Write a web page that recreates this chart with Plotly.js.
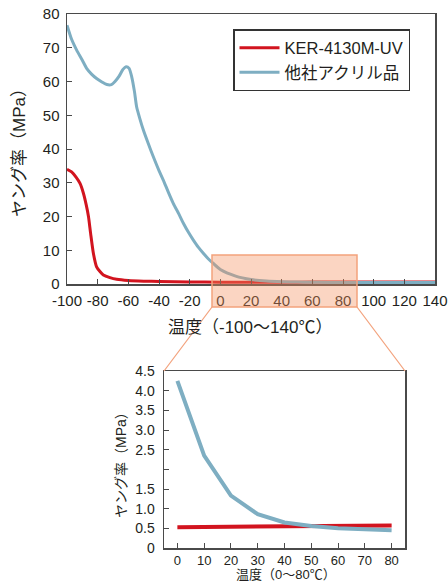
<!DOCTYPE html>
<html>
<head>
<meta charset="utf-8">
<script src="https://cdn.plot.ly/plotly-3.0.1.min.js"></script>
<style>html,body{margin:0;padding:0;background:#fff;}#chart{width:448px;height:582px;}</style>
</head>
<body>
<div id="chart"></div>
<script>
// ---- data ----
const seriesNames = ['KER-4130M-UV', '他社アクリル品'];

const redTemps = [-100,-97,-94,-91.5,-89.3,-87.5,-86,-84.6,-82.8,-80.7,-78.5,-76.3,-72,-67.6,-60,-50,-40,-20,0,20,40,60,80,100,120,140];
const redModulus = [34,33.2,31.6,29.8,26.9,23.5,20,15,9.1,5.1,3.7,2.7,1.9,1.4,1.05,0.85,0.75,0.6,0.53,0.54,0.55,0.56,0.57,0.58,0.58,0.59];

const blueTemps = [-100,-97,-93.7,-90,-87.2,-84,-80.7,-77,-74,-71,-68.7,-66,-63.5,-61.5,-59.5,-57.8,-56,-54.6,-52.5,-50.2,-47,-43.7,-40,-37.2,-34,-30.7,-27,-24.1,-20.8,-17.6,-14.4,-11.1,-7.9,-4.6,0,10,20,30,40,50,60,70,80,100,120,140];
const blueModulus = [76.7,72.5,69.3,66.3,63.9,62.2,60.9,59.8,59.1,59.1,60,61.6,63.6,64.4,63.9,61.4,57,52.5,49,45.6,41.6,37.7,33.6,30.8,27.3,23.9,20.7,18,15.3,13,10.9,9.1,7.5,6.1,4.3,2.35,1.33,0.86,0.65,0.56,0.5,0.47,0.45,0.44,0.43,0.42];

const insetTemps = [0,10,20,30,40,50,60,70,80];
const insetRed = [0.53,0.535,0.54,0.545,0.55,0.555,0.56,0.565,0.57];
const insetBlue = [4.25,2.35,1.33,0.86,0.65,0.56,0.5,0.47,0.45];

const mainXTicks = [-100,-80,-60,-40,-20,0,20,40,60,80,100,120,140];
const mainXTickText = ['-100','-80','-60','-40','-20','0','20','40','60','80','100','120','140'];
const mainYTicks = [0,10,20,30,40,50,60,70,80];
const insetXTicks = [0,10,20,30,40,50,60,70,80];
const insetYTicks = [0,0.5,1.0,1.5,2.0,2.5,3.0,3.5,4.0,4.5];
const insetYTickText = ['0','0.5','1.0','1.5','','2.5','3.0','3.5','4.0','4.5'];

const mainXTitle = '温度（-100～140℃）';
const mainYTitle = 'ヤング率（MPa）';
const insetXTitle = '温度（0～80℃）';
const insetYTitle = 'ヤング率（MPa）';

// ---- styling ----
const RED = '#d2141f';
const BLUE = '#7eaec2';
const AXIS = '#4a4a4a';
const TXT = '#231f20';
const FONT = 'Liberation Sans, Arial, Noto Sans CJK JP, sans-serif';
const ORANGE_LINE = '#f3a27c';

const W = 448, H = 582;
const px = v => v / W;
const py = v => (H - v) / H;

const traces = [
  {x: redTemps, y: redModulus, name: seriesNames[0], type: 'scatter', mode: 'lines',
   line: {color: RED, width: 3, shape: 'spline', smoothing: 0.6}, xaxis: 'x', yaxis: 'y'},
  {x: blueTemps, y: blueModulus, name: seriesNames[1], type: 'scatter', mode: 'lines',
   line: {color: BLUE, width: 3, shape: 'spline', smoothing: 0.6}, xaxis: 'x', yaxis: 'y'},
  {x: insetTemps, y: insetRed, name: seriesNames[0], type: 'scatter', mode: 'lines', showlegend: false,
   line: {color: RED, width: 4}, xaxis: 'x2', yaxis: 'y2'},
  {x: insetTemps, y: insetBlue, name: seriesNames[1], type: 'scatter', mode: 'lines', showlegend: false,
   line: {color: BLUE, width: 4}, xaxis: 'x2', yaxis: 'y2'}
];

// zoom region position (decoration) in pixels
const zx0 = 212, zx1 = 357, zy0 = 255, zy1 = 307;
const ix0 = 164, ix1 = 405, iy0 = 371, iy1 = 548;

const layout = {
  width: W, height: H, autosize: false,
  margin: {l: 0, r: 0, t: 0, b: 0},
  paper_bgcolor: '#fff', plot_bgcolor: 'rgba(0,0,0,0)',
  font: {family: FONT, color: TXT, size: 15},
  showlegend: true,
  legend: {x: px(233), y: py(29), xanchor: 'left', yanchor: 'top',
    bgcolor: '#fff', bordercolor: '#333', borderwidth: 1.5,
    font: {family: FONT, size: 16.5, color: TXT}, itemwidth: 40, tracegroupgap: 0},
  xaxis: {domain: [px(67), px(435)], range: [-100, 140], tickvals: mainXTicks, ticktext: mainXTickText,
    tickangle: 0,
    ticks: 'inside', ticklen: 5, tickwidth: 1, tickcolor: AXIS,
    showline: true, linecolor: AXIS, linewidth: 1.5, mirror: true,
    showgrid: false, zeroline: false, anchor: 'y',
    tickfont: {family: FONT, size: 15, color: TXT}, ticklabelstandoff: 2},
  yaxis: {domain: [py(284), py(14)], range: [0, 80], tickvals: mainYTicks,
    ticks: 'inside', ticklen: 5, tickwidth: 1, tickcolor: AXIS,
    showline: true, linecolor: AXIS, linewidth: 1.5, mirror: true,
    showgrid: false, zeroline: false, anchor: 'x',
    tickfont: {family: FONT, size: 15, color: TXT}, ticklabelstandoff: 3},
  xaxis2: {domain: [px(ix0), px(ix1)], range: [-5, 85], tickvals: insetXTicks, tickangle: 0,
    ticks: 'inside', ticklen: 5, tickwidth: 1, tickcolor: AXIS,
    showline: true, linecolor: AXIS, linewidth: 1.5, mirror: true,
    showgrid: false, zeroline: false, anchor: 'y2',
    tickfont: {family: FONT, size: 13, color: TXT}, ticklabelstandoff: 0},
  yaxis2: {domain: [py(iy1), py(iy0)], range: [0, 4.5], tickvals: insetYTicks, ticktext: insetYTickText,
    ticks: 'inside', ticklen: 5, tickwidth: 1, tickcolor: AXIS,
    showline: true, linecolor: AXIS, linewidth: 1.5, mirror: true,
    showgrid: false, zeroline: false, anchor: 'x2',
    tickfont: {family: FONT, size: 14, color: TXT}, ticklabelstandoff: 5},
  shapes: [
    {type: 'rect', xref: 'paper', yref: 'paper', x0: px(zx0), x1: px(zx1), y0: py(zy1), y1: py(zy0),
     fillcolor: 'rgba(244,145,95,0.38)', line: {color: ORANGE_LINE, width: 1.5}, layer: 'above'},
    {type: 'line', xref: 'paper', yref: 'paper', x0: px(zx0), y0: py(zy1), x1: px(ix0), y1: py(iy0),
     line: {color: ORANGE_LINE, width: 1.2}},
    {type: 'line', xref: 'paper', yref: 'paper', x0: px(zx1), y0: py(zy1), x1: px(ix1), y1: py(iy0),
     line: {color: ORANGE_LINE, width: 1.2}}
  ],
  annotations: [
    {text: mainXTitle, xref: 'paper', yref: 'paper', x: px(250), y: py(327), xanchor: 'center', yanchor: 'middle',
     showarrow: false, font: {family: FONT, size: 17, color: TXT}},
    {text: mainYTitle, xref: 'paper', yref: 'paper', x: px(19), y: py(149), xanchor: 'center', yanchor: 'middle',
     textangle: -90, showarrow: false, font: {family: FONT, size: 17, color: TXT}},
    {text: insetXTitle, xref: 'paper', yref: 'paper', x: px(286), y: py(584), xanchor: 'center', yanchor: 'bottom',
     showarrow: false, font: {family: FONT, size: 13, color: TXT}},
    {text: insetYTitle, xref: 'paper', yref: 'paper', x: px(121), y: py(462), xanchor: 'center', yanchor: 'middle',
     textangle: -90, showarrow: false, font: {family: FONT, size: 14, color: TXT}}
  ]
};

Plotly.newPlot('chart', traces, layout, {displayModeBar: false, staticPlot: true});
</script>
</body>
</html>
